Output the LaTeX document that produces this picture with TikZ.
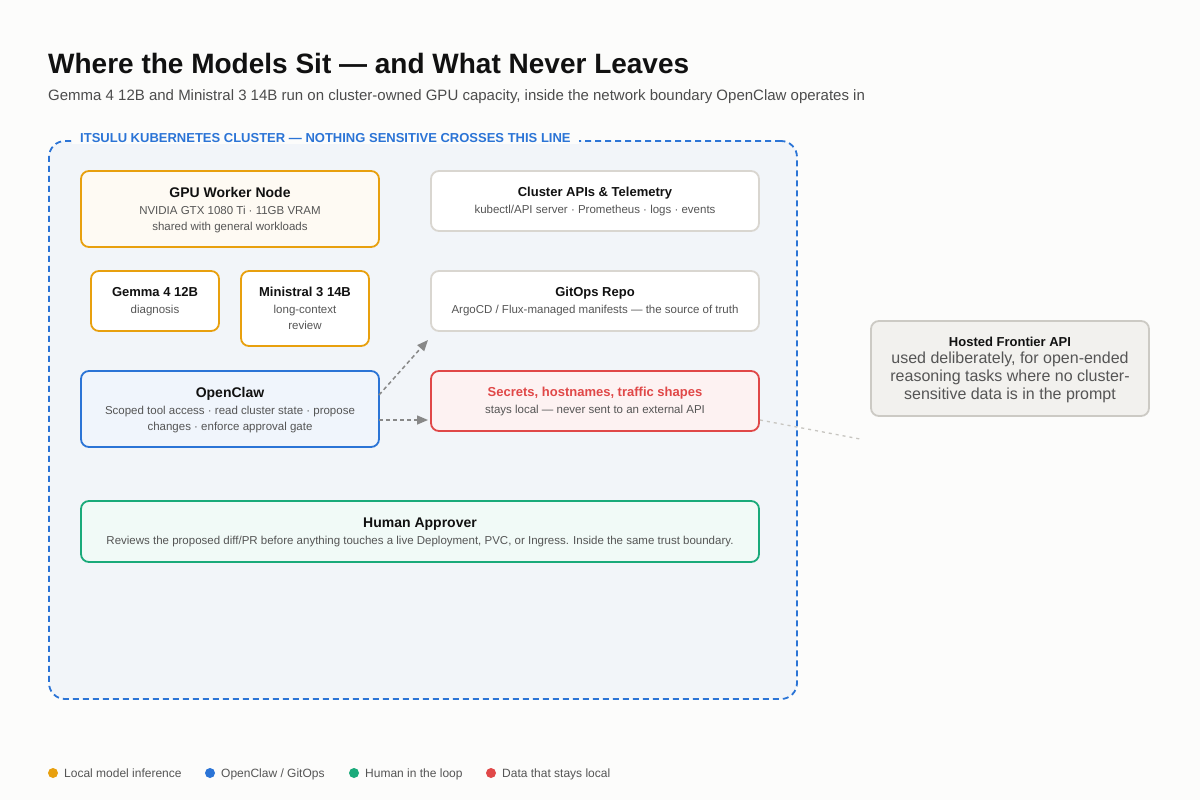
\documentclass[tikz,border=0pt]{standalone}
\usepackage{fontspec}
\setmainfont{Liberation Sans}
\usetikzlibrary{calc,arrows.meta}
\definecolor{bgc}{HTML}{FCFCFB}
\definecolor{clfill}{HTML}{F2F5F9}
\definecolor{cblue}{HTML}{2B74D6}
\definecolor{corange}{HTML}{E8A00E}
\definecolor{cgreen}{HTML}{1AAA7A}
\definecolor{cred}{HTML}{E04848}
\definecolor{cgrayb}{HTML}{D9D6D0}
\definecolor{hostfill}{HTML}{F2F1EE}
\definecolor{hostb}{HTML}{CCCAC4}
\definecolor{txtgray}{HTML}{555555}
\definecolor{txtdark}{HTML}{111111}
\definecolor{arrgray}{HTML}{888888}
\tikzset{
  box/.style={draw, rounded corners=8, line width=1.8, anchor=north west, inner sep=0, outer sep=0},
  obox/.style={box, draw=corange, fill=white},
  gbox/.style={box, draw=cgrayb, fill=white},
  ttl/.style={anchor=base, inner sep=0, font=\bfseries\fontsize{14}{16}\selectfont, text=txtdark},
  sub/.style={anchor=base, inner sep=0, font=\fontsize{11.5}{13}\selectfont, text=txtgray},
  leg/.style={anchor=base west, inner sep=0, font=\fontsize{12}{14}\selectfont, text=txtgray},
  conn/.style={draw=arrgray, line width=1.5, dash pattern=on 4 off 3, -{Triangle[length=11pt,width=9pt]}},
}
\begin{document}
\begin{tikzpicture}[x=1pt,y=-1pt]
\fill[bgc] (0,0) rectangle (1200,800);
\useasboundingbox (0,0) rectangle (1200,800);

\node[anchor=base west, inner sep=0, font=\bfseries\fontsize{28}{32}\selectfont, text=txtdark] (title) at (48,74) {Where the Models Sit — and What Never Leaves};
\node[anchor=base west, inner sep=0, font=\fontsize{15}{18}\selectfont, text=txtgray!90!black] (subtitle) at (48,100.5) {Gemma 4 12B and Ministral 3 14B run on cluster-owned GPU capacity, inside the network boundary OpenClaw operates in};

% cluster
\node[box, draw=cblue, fill=clfill, dash pattern=on 6 off 4, rounded corners=16, minimum width=748, minimum height=558] (cluster) at (49,141) {};
\node[anchor=base west, fill=bgc, inner xsep=8, inner ysep=2, font=\bfseries\fontsize{13}{15}\selectfont, text=cblue] (cllabel) at (72,142) {ITSULU KUBERNETES CLUSTER — NOTHING SENSITIVE CROSSES THIS LINE};

% GPU worker
\node[obox, fill=corange!5!white, minimum width=298, minimum height=76] (gpu) at (81,171) {};
\node[ttl] at ($(gpu.north)+(0,26)$) {GPU Worker Node};
\node[sub] at ($(gpu.north)+(0,43)$) {NVIDIA GTX 1080 Ti · 11GB VRAM};
\node[sub] at ($(gpu.north)+(0,59)$) {shared with general workloads};

% Cluster APIs
\node[gbox, minimum width=328, minimum height=60] (api) at (431,171) {};
\node[ttl, font=\bfseries\fontsize{13}{15}\selectfont] at ($(api.north)+(0,25)$) {Cluster APIs \& Telemetry};
\node[sub] at ($(api.north)+(0,42)$) {kubectl/API server · Prometheus · logs · events};

% Gemma
\node[obox, minimum width=128, minimum height=60] (gemma) at (91,271) {};
\node[ttl, font=\bfseries\fontsize{13}{15}\selectfont] at ($(gemma.north)+(0,25)$) {Gemma 4 12B};
\node[sub] at ($(gemma.north)+(0,42)$) {diagnosis};

% Ministral
\node[obox, minimum width=128, minimum height=75] (mini) at (241,271) {};
\node[ttl, font=\bfseries\fontsize{13}{15}\selectfont] at ($(mini.north)+(0,25)$) {Ministral 3 14B};
\node[sub] at ($(mini.north)+(0,42)$) {long-context};
\node[sub] at ($(mini.north)+(0,58)$) {review};

% GitOps
\node[gbox, minimum width=328, minimum height=60] (git) at (431,271) {};
\node[ttl, font=\bfseries\fontsize{13}{15}\selectfont] at ($(git.north)+(0,25)$) {GitOps Repo};
\node[sub] at ($(git.north)+(0,42)$) {ArgoCD / Flux-managed manifests — the source of truth};

% OpenClaw
\node[box, draw=cblue, fill=cblue!7!white, minimum width=298, minimum height=76] (oc) at (81,371) {};
\node[ttl] at ($(oc.north)+(0,26)$) {OpenClaw};
\node[sub] at ($(oc.north)+(0,43)$) {Scoped tool access · read cluster state · propose};
\node[sub] at ($(oc.north)+(0,59)$) {changes · enforce approval gate};

% Secrets
\node[box, draw=cred, fill=cred!7!white, minimum width=328, minimum height=60] (sec) at (431,371) {};
\node[ttl, font=\bfseries\fontsize{13}{15}\selectfont, text=cred] at ($(sec.north)+(0,25)$) {Secrets, hostnames, traffic shapes};
\node[sub] at ($(sec.north)+(0,42)$) {stays local — never sent to an external API};

% Human approver
\node[box, draw=cgreen, fill=cgreen!6!white, minimum width=678, minimum height=61] (human) at (81,501) {};
\node[ttl] at ($(human.north)+(0,26)$) {Human Approver};
\node[sub] at ($(human.north)+(0,43)$) {Reviews the proposed diff/PR before anything touches a live Deployment, PVC, or Ingress. Inside the same trust boundary.};

% Hosted
\node[box, draw=hostb, fill=hostfill, minimum width=278, minimum height=95] (host) at (871,321) {};
\node[ttl, font=\bfseries\fontsize{13}{15}\selectfont] at ($(host.north)+(0,25)$) {Hosted Frontier API};
\node[anchor=base, inner sep=0, font=\fontsize{16}{18}\selectfont, text=txtgray] at ($(host.north)+(0,42)$) {used deliberately, for open-ended};
\node[anchor=base, inner sep=0, font=\fontsize{16}{18}\selectfont, text=txtgray] at ($(host.north)+(0,60)$) {reasoning tasks where no cluster-};
\node[anchor=base, inner sep=0, font=\fontsize{16}{18}\selectfont, text=txtgray] at ($(host.north)+(0,78)$) {sensitive data is in the prompt};

% connectors
\draw[conn] ($(oc.east)+(0,-14)$) -- ($(git.south west)+(-3,9)$);
\draw[conn] ($(oc.east)+(0,11)$) -- ($(sec.west)+(-3,19)$);
\coordinate (hostend) at ($(host.south west)+(-11,23)$);
\draw[draw=cgrayb!80!gray, line width=1.3, dash pattern=on 3 off 4] ($(sec.east)+(1,19)$) -- (hostend);

% legend
\fill[corange] (53,773) circle (5);
\node[leg] (l1) at (64,777) {Local model inference};
\fill[cblue] (210,773) circle (5);
\node[leg] (l2) at (221,777) {OpenClaw / GitOps};
\fill[cgreen] (354,773) circle (5);
\node[leg] (l3) at (365,777) {Human in the loop};
\fill[cred] (491,773) circle (5);
\node[leg] (l4) at (502,777) {Data that stays local};
\end{tikzpicture}
\end{document}
